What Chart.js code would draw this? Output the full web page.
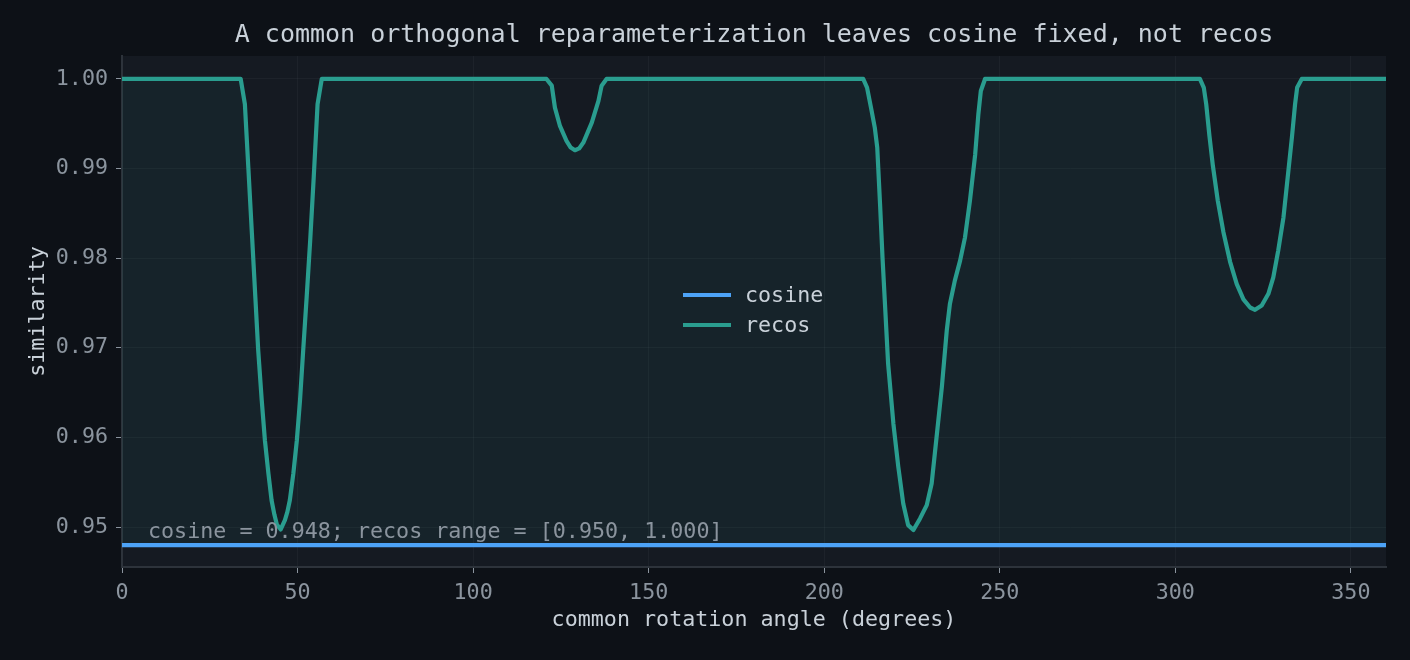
<!DOCTYPE html>
<html>
<head>
<meta charset="utf-8">
<script src="https://cdn.jsdelivr.net/npm/chart.js@4.4.1/dist/chart.umd.min.js"></script>
<style>
  html, body { margin: 0; padding: 0; background: #0d1117; }
  #wrap { width: 1410px; height: 660px; }
</style>
</head>
<body>
<div id="wrap"><canvas id="chart" width="1410" height="660"></canvas></div>
<script>
// ---- data ----
const cosineAngles = [0, 360];
const cosineValues = [0.948, 0.948];

const recosAngles = [
  0, 33.8, 35.0, 36.0, 37.0, 38.0, 38.8, 39.8, 40.7, 41.7, 42.6, 43.4, 44.1, 45.2,
  46.4, 47.1, 47.8, 48.8, 49.8, 50.7, 51.6, 52.6, 53.6, 54.6, 55.7, 56.9,
  120.9, 122.4, 123.3, 124.7, 126.6, 127.8, 129.0, 130.2, 131.4, 133.8, 135.7, 136.6, 138.0,
  211.1, 212.2, 213.5, 214.4, 215.1, 215.9, 216.6, 217.3, 218.2, 219.7, 221.1, 222.5, 223.9, 225.4,
  227.3, 229.2, 230.6, 232.0, 233.5, 234.9, 235.8, 237.2, 238.7, 240.1, 241.5, 243.0, 243.9, 244.6, 245.8,
  307.0, 308.1, 308.8, 309.7, 310.7, 312.1, 313.7, 315.6, 317.5, 319.4, 321.3, 322.7,
  324.6, 326.5, 327.9, 329.3, 330.8, 332.2, 333.2, 334.1, 334.7, 336.0,
  360
];
const recosValues = [
  1.0, 1.0, 0.9972, 0.98998, 0.98274, 0.9755, 0.9697, 0.96414, 0.95969, 0.95598, 0.953, 0.9514, 0.9503, 0.94974,
  0.95078, 0.9517, 0.953, 0.95598, 0.95969, 0.96414, 0.9697, 0.9757, 0.9820, 0.9890, 0.9972, 1.0,
  1.0, 0.99925, 0.9968, 0.9948, 0.9931, 0.99235, 0.99205, 0.99225, 0.9929, 0.99513, 0.99755, 0.99925, 1.0,
  1.0, 0.99904, 0.99644, 0.99458, 0.99235, 0.98605, 0.9801, 0.97491, 0.96822, 0.96154, 0.95672, 0.95264, 0.95022, 0.94967,
  0.95097, 0.95245, 0.95486, 0.96006, 0.96562, 0.97194, 0.97491, 0.9775, 0.97973, 0.98233, 0.98641, 0.99161, 0.99607, 0.99866, 1.0,
  1.0, 0.99904, 0.99718, 0.9937, 0.9903, 0.9864, 0.9829, 0.9796, 0.9771, 0.9754, 0.9745, 0.97424,
  0.97472, 0.97603, 0.97787, 0.98085, 0.98456, 0.98976, 0.99347, 0.99718, 0.99904, 1.0,
  1.0
];

const xTicks = [0, 50, 100, 150, 200, 250, 300, 350];
const yTicks = [0.95, 0.96, 0.97, 0.98, 0.99, 1.00];

const titleText = "A common orthogonal reparameterization leaves cosine fixed, not recos";
const noteText = "cosine = 0.948; recos range = [0.950, 1.000]";

// ---- look ----
const FONT = "'DejaVu Sans Mono', monospace";
const COS_COLOR = "#4da3f7";
const RECOS_COLOR = "#2a9d8f";
const TICK_COLOR = "#8b949e";
const TEXT_COLOR = "#c9d1d9";
const FS = 21.7;

const toPoints = (xs, ys) => xs.map((x, i) => ({ x, y: ys[i] }));

// plot background, title, note, legend
const decor = {
  id: "decor",
  beforeDraw(chart) {
    const { ctx, chartArea: a } = chart;
    ctx.save();
    ctx.fillStyle = "#151a22";
    ctx.fillRect(a.left, a.top, a.right - a.left, a.bottom - a.top);
    ctx.restore();
  },
  afterDraw(chart) {
    const { ctx, chartArea: a } = chart;
    ctx.save();
    ctx.fillStyle = TEXT_COLOR;
    ctx.font = `25px ${FONT}`;
    ctx.textAlign = "center";
    ctx.textBaseline = "middle";
    ctx.fillText(titleText, (a.left + a.right) / 2, 35);

    ctx.fillStyle = TICK_COLOR;
    ctx.font = `${FS}px ${FONT}`;
    ctx.textAlign = "left";
    ctx.fillText(noteText, a.left + 26, 532);

    // legend
    const items = [["cosine", COS_COLOR], ["recos", RECOS_COLOR]];
    items.forEach(([label, color], i) => {
      const y = 295 + i * 30;
      ctx.strokeStyle = color;
      ctx.lineWidth = 4;
      ctx.beginPath();
      ctx.moveTo(683, y);
      ctx.lineTo(731, y);
      ctx.stroke();
      ctx.fillStyle = TEXT_COLOR;
      ctx.fillText(label, 745, y + 1);
    });
    ctx.restore();
  }
};

new Chart(document.getElementById("chart"), {
  type: "line",
  data: {
    datasets: [
      {
        label: "cosine",
        data: toPoints(cosineAngles, cosineValues),
        borderColor: COS_COLOR,
        borderWidth: 4.3,
        pointRadius: 0,
        fill: false
      },
      {
        label: "recos",
        data: toPoints(recosAngles, recosValues),
        borderColor: RECOS_COLOR,
        borderWidth: 4.2,
        borderJoinStyle: "round",
        pointRadius: 0,
        fill: { target: 0, above: "rgba(42,157,143,0.08)", below: "rgba(42,157,143,0.08)" }
      }
    ]
  },
  options: {
    responsive: false,
    animation: false,
    events: [],
    layout: { padding: { top: 56, right: 24, left: 0, bottom: 0 } },
    plugins: {
      legend: { display: false },
      title: { display: false },
      tooltip: { enabled: false }
    },
    scales: {
      x: {
        type: "linear",
        min: 0,
        max: 360,
        afterBuildTicks: s => { s.ticks = xTicks.map(v => ({ value: v })); },
        afterFit: s => { s.height = 93; },
        ticks: { color: TICK_COLOR, font: { family: FONT, size: FS }, padding: 7, maxRotation: 0 },
        grid: { color: "rgba(139,148,158,0.07)", tickColor: TICK_COLOR, tickLength: 6 },
        border: { color: "#2d333b", width: 2 },
        title: {
          display: true,
          text: "common rotation angle (degrees)",
          color: TEXT_COLOR,
          font: { family: FONT, size: FS },
          padding: { top: 0, bottom: 27 }
        }
      },
      y: {
        min: 0.94555,
        max: 1.00256,
        afterBuildTicks: s => { s.ticks = yTicks.map(v => ({ value: v })); },
        afterFit: s => { s.width = 122; },
        ticks: { color: TICK_COLOR, font: { family: FONT, size: FS }, padding: 8, callback: v => v.toFixed(2) },
        grid: { color: "rgba(139,148,158,0.07)", tickColor: TICK_COLOR, tickLength: 6 },
        border: { color: "#2d333b", width: 2 },
        title: {
          display: true,
          text: "similarity",
          color: TEXT_COLOR,
          font: { family: FONT, size: FS },
          padding: { top: 25, bottom: 0 }
        }
      }
    }
  },
  plugins: [decor]
});
</script>
</body>
</html>
